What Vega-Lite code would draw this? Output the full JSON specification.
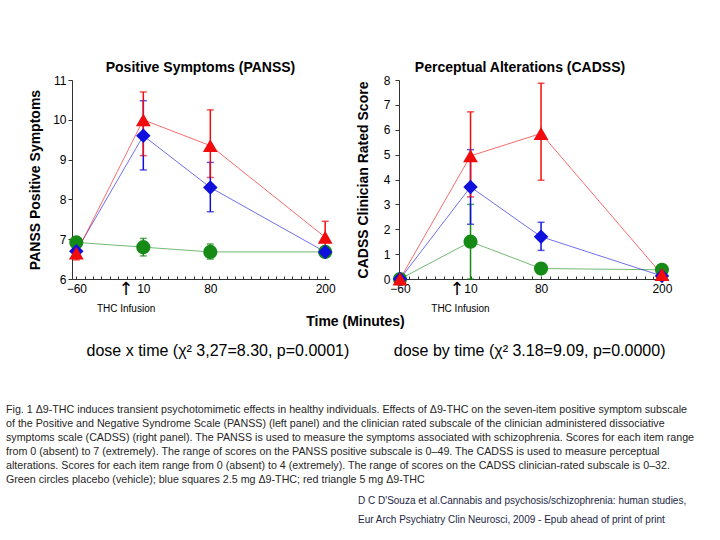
{
  "$schema": "https://vega.github.io/schema/vega-lite/v6.json",
  "background": "white",
  "padding": {"left": 6, "top": 61, "right": 2, "bottom": 2},
  "data": {"values": [
    {"panel": "PANSS", "group": "placebo", "time": -60, "value": 6.92, "lo": 6.85, "hi": 6.99},
    {"panel": "PANSS", "group": "placebo", "time": 10, "value": 6.8, "lo": 6.58, "hi": 7.02},
    {"panel": "PANSS", "group": "placebo", "time": 80, "value": 6.68, "lo": 6.5, "hi": 6.88},
    {"panel": "PANSS", "group": "placebo", "time": 200, "value": 6.68, "lo": 6.6, "hi": 6.76},
    {"panel": "PANSS", "group": "2.5 mg", "time": -60, "value": 6.7, "lo": 6.6, "hi": 6.8},
    {"panel": "PANSS", "group": "2.5 mg", "time": 10, "value": 9.6, "lo": 8.74, "hi": 10.48},
    {"panel": "PANSS", "group": "2.5 mg", "time": 80, "value": 8.3, "lo": 7.69, "hi": 8.93},
    {"panel": "PANSS", "group": "2.5 mg", "time": 200, "value": 6.68, "lo": 6.56, "hi": 6.8},
    {"panel": "PANSS", "group": "5 mg", "time": -60, "value": 6.65, "lo": 6.48, "hi": 6.82},
    {"panel": "PANSS", "group": "5 mg", "time": 10, "value": 10.0, "lo": 9.1, "hi": 10.7},
    {"panel": "PANSS", "group": "5 mg", "time": 80, "value": 9.35, "lo": 8.55, "hi": 10.25},
    {"panel": "PANSS", "group": "5 mg", "time": 200, "value": 7.05, "lo": 6.65, "hi": 7.45},
    {"panel": "CADSS", "group": "placebo", "time": -60, "value": 0.0, "lo": 0.0, "hi": 0.05},
    {"panel": "CADSS", "group": "placebo", "time": 10, "value": 1.5, "lo": 0.0, "hi": 3.0},
    {"panel": "CADSS", "group": "placebo", "time": 80, "value": 0.42, "lo": 0.22, "hi": 0.62},
    {"panel": "CADSS", "group": "placebo", "time": 200, "value": 0.37, "lo": 0.17, "hi": 0.57},
    {"panel": "CADSS", "group": "2.5 mg", "time": -60, "value": 0.0, "lo": 0.0, "hi": 0.05},
    {"panel": "CADSS", "group": "2.5 mg", "time": 10, "value": 3.7, "lo": 2.2, "hi": 5.2},
    {"panel": "CADSS", "group": "2.5 mg", "time": 80, "value": 1.7, "lo": 1.15, "hi": 2.28},
    {"panel": "CADSS", "group": "2.5 mg", "time": 200, "value": 0.12, "lo": 0.05, "hi": 0.2},
    {"panel": "CADSS", "group": "5 mg", "time": -60, "value": 0.0, "lo": 0.0, "hi": 0.05},
    {"panel": "CADSS", "group": "5 mg", "time": 10, "value": 4.95, "lo": 3.3, "hi": 6.72},
    {"panel": "CADSS", "group": "5 mg", "time": 80, "value": 5.85, "lo": 3.97, "hi": 7.87},
    {"panel": "CADSS", "group": "5 mg", "time": 200, "value": 0.18, "lo": 0.08, "hi": 0.28}
  ]},
  "title": {
    "text": ["D C D'Souza et  al.Cannabis and psychosis/schizophrenia: human studies,", "Eur Arch Psychiatry Clin Neurosci, 2009 - Epub ahead of print of print"],
    "orient": "bottom", "anchor": "start", "frame": "group", "dx": 286, "offset": 11,
    "fontSize": 10, "fontWeight": "normal", "lineHeight": 19, "color": "#1c2645", "font": "Liberation Sans"
  },
  "vconcat": [
    {
      "title": {
        "text": [
          "Fig. 1 Δ9-THC induces transient psychotomimetic effects in healthy individuals. Effects of Δ9-THC on the seven-item positive symptom subscale",
          "of the Positive and Negative Syndrome Scale (PANSS) (left panel) and the clinician rated subscale of the clinician administered dissociative",
          "symptoms scale (CADSS) (right panel). The PANSS is used to measure the symptoms associated with schizophrenia. Scores for each item range",
          "from 0 (absent) to 7 (extremely). The range of scores on the PANSS positive subscale is 0–49. The CADSS is used to measure perceptual",
          "alterations. Scores for each item range from 0 (absent) to 4 (extremely). The range of scores on the CADSS clinician-rated subscale is 0–32.",
          "Green circles placebo (vehicle); blue squares 2.5 mg Δ9-THC; red triangle 5 mg Δ9-THC"
        ],
        "orient": "bottom", "anchor": "start", "frame": "group", "dx": -66, "offset": 46,
        "fontSize": 10.7, "fontWeight": "normal", "lineHeight": 14, "color": "#262626", "font": "Liberation Sans"
      },
      "vconcat": [
        {
          "title": {
            "text": "dose x time (χ² 3,27=8.30, p=0.0001)\u00a0\u00a0\u00a0\u00a0\u00a0\u00a0\u00a0\u00a0\u00a0\u00a0dose by time (χ² 3.18=9.09, p=0.0000)",
            "orient": "bottom", "anchor": "middle", "frame": "group", "dx": 304, "offset": 15,
            "fontSize": 16, "fontWeight": "normal", "color": "black", "font": "Liberation Sans"
          },
          "bounds": "flush",
          "spacing": 70,
          "hconcat": [
            {
              "width": 257, "height": 199,
              "title": {"text": "Positive Symptoms (PANSS)", "offset": -1},
              "encoding": {
                "x": {"field": "time", "type": "quantitative",
                  "scale": {"domain": [-64.5, 204], "nice": false, "zero": false},
                  "axis": {
                    "values": [-60, -51.25, -42.5, -33.75, -25, -16.25, -7.5, 1.25, 10, 18.75, 27.5, 36.25, 45, 53.75, 62.5, 71.25, 80, 88.57, 97.14, 105.71, 114.29, 122.86, 131.43, 140, 148.57, 157.14, 165.71, 174.29, 182.86, 191.43, 200],
                    "labelExpr": "indexof([-60, 10, 80, 200], datum.value) >= 0 ? datum.label : ''",
                    "labelOverlap": false, "tickSize": -3, "labelPadding": 7,
                    "title": "Time (Minutes)", "titleX": 283, "titleY": 42, "titleAlign": "center", "titleBaseline": "middle"
                  }
                },
                "color": {"field": "group", "type": "nominal", "legend": null,
                  "scale": {"domain": ["placebo", "2.5 mg", "5 mg"], "range": ["#168a16", "#1010dd", "#f00c0c"]}}
              },
              "layer": [
                {
                  "transform": [{"filter": "datum.panel == 'PANSS'"}],
                  "mark": {"type": "line", "strokeWidth": 1, "opacity": 0.6},
                  "encoding": {"y": {"field": "value", "type": "quantitative",
                    "scale": {"domain": [6, 11], "nice": false, "zero": false},
                    "axis": {"title": "PANSS Positive Symptoms", "values": [6, 7, 8, 9, 10, 11], "labelOverlap": false, "tickSize": 4, "labelPadding": 2, "titlePadding": 10}}}
                },
                {
                  "transform": [{"filter": "datum.panel == 'PANSS'"}],
                  "mark": {"type": "errorbar", "ticks": {"size": 7, "thickness": 1.5}, "rule": {"strokeWidth": 1.5}},
                  "encoding": {
                    "y": {"field": "lo", "type": "quantitative",
                      "axis": {"title": "PANSS Positive Symptoms", "values": [6, 7, 8, 9, 10, 11], "labelOverlap": false, "tickSize": 4, "labelPadding": 2, "titlePadding": 10}},
                    "y2": {"field": "hi"}
                  }
                },
                {
                  "transform": [{"filter": "datum.panel == 'PANSS'"}],
                  "mark": {"type": "point", "filled": true, "opacity": 1},
                  "encoding": {
                    "y": {"field": "value", "type": "quantitative",
                      "axis": {"title": "PANSS Positive Symptoms", "values": [6, 7, 8, 9, 10, 11], "labelOverlap": false, "tickSize": 4, "labelPadding": 2, "titlePadding": 10}},
                    "shape": {"field": "group", "type": "nominal", "legend": null,
                      "scale": {"domain": ["placebo", "2.5 mg", "5 mg"], "range": ["circle", "diamond", "triangle-up"]}},
                    "size": {"field": "group", "type": "nominal", "legend": null,
                      "scale": {"domain": ["placebo", "2.5 mg", "5 mg"], "range": [200, 220, 300]}}
                  }
                },
                {
                  "data": {"values": [{"time": -8, "label": "THC Infusion", "arrow": "↑"}]},
                  "mark": {"type": "text", "y": "height", "dy": 11, "fontSize": 18, "font": "DejaVu Sans", "baseline": "middle"},
                  "encoding": {"text": {"field": "arrow"}, "color": {"value": "black"}}
                },
                {
                  "data": {"values": [{"time": -8, "label": "THC Infusion"}]},
                  "mark": {"type": "text", "y": "height", "dy": 30, "fontSize": 10, "font": "Liberation Sans", "baseline": "middle"},
                  "encoding": {"text": {"field": "label"}, "color": {"value": "black"}}
                }
              ]
            },
            {
              "width": 269, "height": 199,
              "title": {"text": "Perceptual Alterations (CADSS)", "offset": -1, "dx": -13.5},
              "encoding": {
                "x": {"field": "time", "type": "quantitative",
                  "scale": {"domain": [-61, 206], "nice": false, "zero": false},
                  "axis": {
                    "values": [-60, -51.25, -42.5, -33.75, -25, -16.25, -7.5, 1.25, 10, 18.75, 27.5, 36.25, 45, 53.75, 62.5, 71.25, 80, 88.57, 97.14, 105.71, 114.29, 122.86, 131.43, 140, 148.57, 157.14, 165.71, 174.29, 182.86, 191.43, 200],
                    "labelExpr": "indexof([-60, 10, 80, 200], datum.value) >= 0 ? datum.label : ''",
                    "labelOverlap": false, "tickSize": -3, "labelPadding": 7, "title": null
                  }
                },
                "color": {"field": "group", "type": "nominal", "legend": null,
                  "scale": {"domain": ["placebo", "2.5 mg", "5 mg"], "range": ["#168a16", "#1010dd", "#f00c0c"]}}
              },
              "layer": [
                {
                  "transform": [{"filter": "datum.panel == 'CADSS'"}],
                  "mark": {"type": "line", "strokeWidth": 1, "opacity": 0.6},
                  "encoding": {"y": {"field": "value", "type": "quantitative",
                    "scale": {"domain": [0, 8], "nice": false},
                    "axis": {"title": "CADSS Clinician Rated Score", "values": [0, 1, 2, 3, 4, 5, 6, 7, 8], "labelOverlap": false, "tickSize": 4, "labelPadding": 5, "titlePadding": 13}}}
                },
                {
                  "transform": [{"filter": "datum.panel == 'CADSS'"}],
                  "mark": {"type": "errorbar", "ticks": {"size": 7, "thickness": 1.5}, "rule": {"strokeWidth": 1.5}},
                  "encoding": {
                    "y": {"field": "lo", "type": "quantitative",
                      "axis": {"title": "CADSS Clinician Rated Score", "values": [0, 1, 2, 3, 4, 5, 6, 7, 8], "labelOverlap": false, "tickSize": 4, "labelPadding": 5, "titlePadding": 13}},
                    "y2": {"field": "hi"}
                  }
                },
                {
                  "transform": [{"filter": "datum.panel == 'CADSS'"}],
                  "mark": {"type": "point", "filled": true, "opacity": 1},
                  "encoding": {
                    "y": {"field": "value", "type": "quantitative",
                      "axis": {"title": "CADSS Clinician Rated Score", "values": [0, 1, 2, 3, 4, 5, 6, 7, 8], "labelOverlap": false, "tickSize": 4, "labelPadding": 5, "titlePadding": 13}},
                    "shape": {"field": "group", "type": "nominal", "legend": null,
                      "scale": {"domain": ["placebo", "2.5 mg", "5 mg"], "range": ["circle", "diamond", "triangle-up"]}},
                    "size": {"field": "group", "type": "nominal", "legend": null,
                      "scale": {"domain": ["placebo", "2.5 mg", "5 mg"], "range": [200, 220, 300]}}
                  }
                },
                {
                  "data": {"values": [{"time": -3.5, "label": "THC Infusion", "arrow": "↑"}]},
                  "mark": {"type": "text", "y": "height", "dy": 11, "fontSize": 18, "font": "DejaVu Sans", "baseline": "middle"},
                  "encoding": {"text": {"field": "arrow"}, "color": {"value": "black"}}
                },
                {
                  "data": {"values": [{"time": 0, "label": "THC Infusion"}]},
                  "mark": {"type": "text", "y": "height", "dy": 30, "fontSize": 10, "font": "Liberation Sans", "baseline": "middle"},
                  "encoding": {"text": {"field": "label"}, "color": {"value": "black"}}
                }
              ]
            }
          ]
        }
      ]
    }
  ],
  "config": {
    "view": {"stroke": null},
    "font": "Liberation Sans",
    "axis": {
      "grid": false, "domainColor": "#333333", "tickColor": "#333333",
      "labelColor": "black", "labelFont": "Liberation Sans", "labelFontSize": 12,
      "titleFont": "Liberation Sans", "titleFontSize": 14, "titleFontWeight": "bold", "titleColor": "black"
    },
    "title": {"font": "Liberation Sans", "fontSize": 14, "fontWeight": "bold", "color": "black"}
  }
}
